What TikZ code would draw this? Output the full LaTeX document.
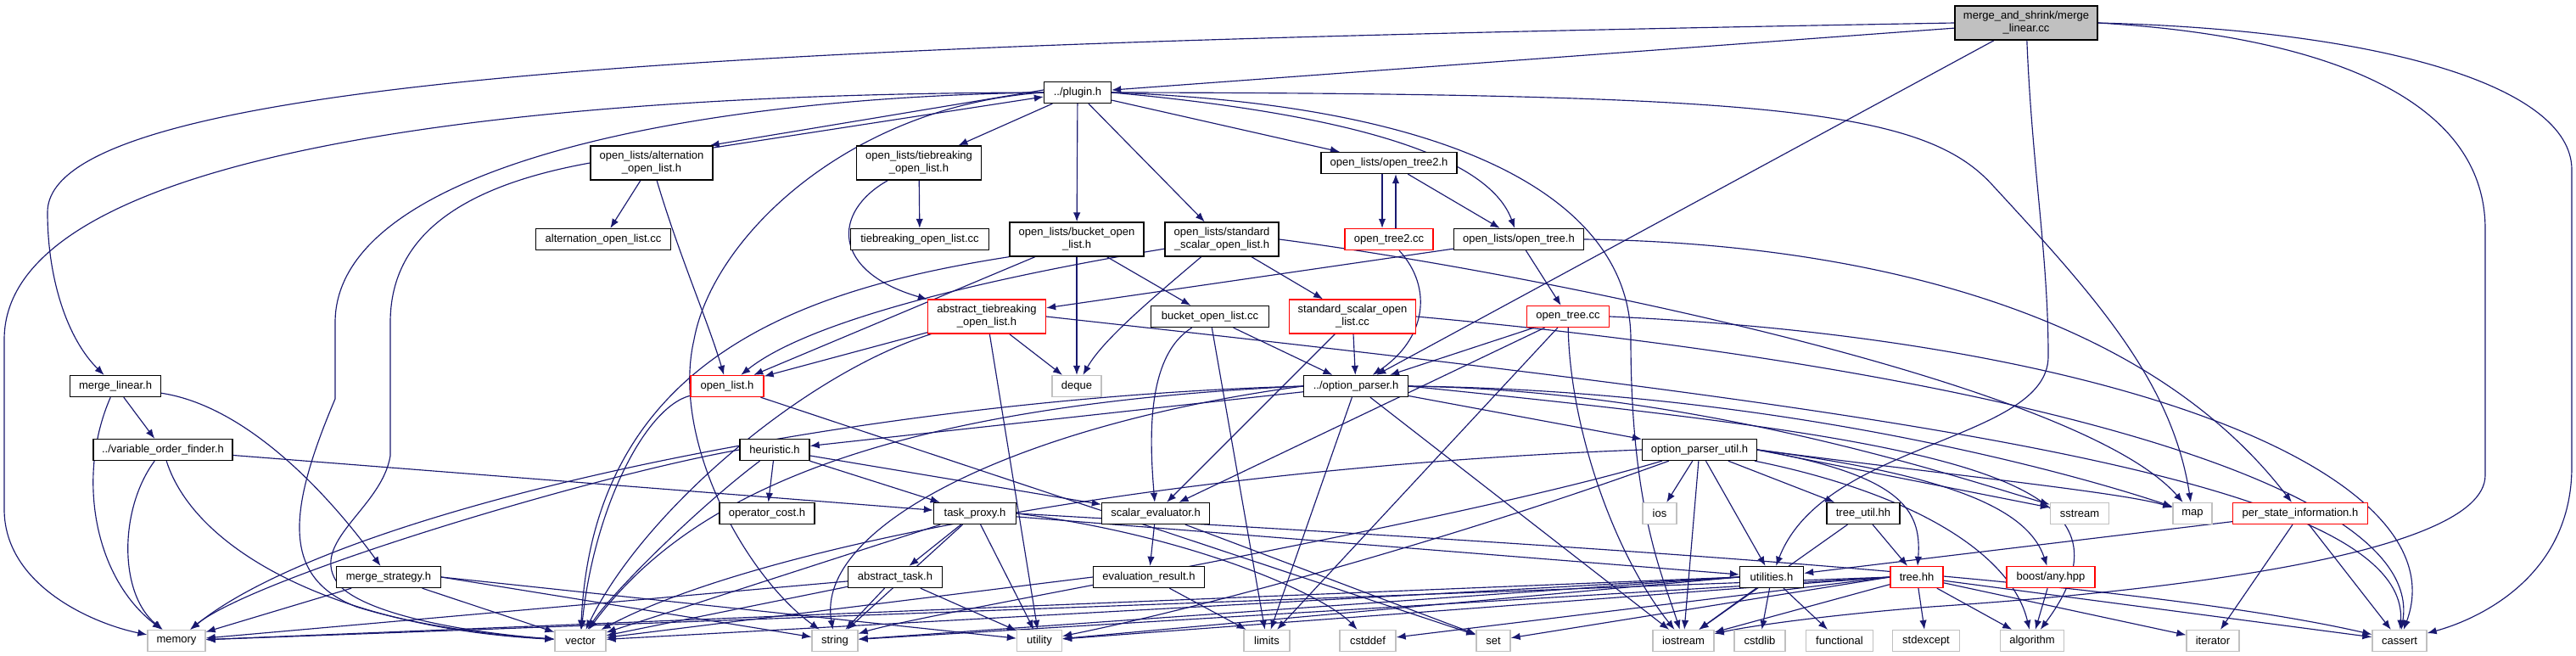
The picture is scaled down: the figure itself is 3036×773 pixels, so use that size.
\documentclass[tikz,border=0pt]{standalone}
\usepackage{fontspec}
\setmainfont{Liberation Sans}
\usetikzlibrary{arrows.meta}
\definecolor{edgec}{HTML}{191970}
\definecolor{sysg}{HTML}{C0C0C0}
\pgfdeclarelayer{bg}
\pgfsetlayers{bg,main}
\newcommand\fsz{\fontsize{13}{15}\selectfont}
\tikzset{
 nb/.style={draw=black, line width=1.3pt, fill=white, inner sep=0pt, minimum height=25pt, align=center, font=\fsz},
 rednb/.style={nb, draw=red},
 sysnb/.style={nb, draw=sysg},
 rootnb/.style={nb, fill=sysg, minimum height=40pt},
 twol/.style={minimum height=40pt},
 e/.style={draw=edgec, line width=1.15pt, -{Latex[length=11pt,width=8.5pt]}},
}
\begin{document}
\begin{tikzpicture}[x=1pt,y=-1pt]
\path[use as bounding box] (0,0) rectangle (3036,773);
% nodes
\node[rootnb,minimum width=168pt] (mlcc) at (2388,27) {merge\_and\_shrink/merge\\\_linear.cc};
\node[nb,minimum width=79pt] (plug) at (1270,109) {../plugin.h};
\node[nb,twol,minimum width=144pt] (altH) at (768,192) {open\_lists/alternation\\\_open\_list.h};
\node[nb,twol,minimum width=147pt] (tieH) at (1083,192) {open\_lists/tiebreaking\\\_open\_list.h};
\node[nb,minimum width=160pt] (ot2H) at (1637,192) {open\_lists/open\_tree2.h};
\node[nb,minimum width=159pt] (altCC) at (711,282) {alternation\_open\_list.cc};
\node[nb,minimum width=163pt] (tieCC) at (1084,282) {tiebreaking\_open\_list.cc};
\node[nb,twol,minimum width=158pt] (bucH) at (1269,282) {open\_lists/bucket\_open\\\_list.h};
\node[nb,twol,minimum width=134pt] (stdH) at (1440,282) {open\_lists/standard\\\_scalar\_open\_list.h};
\node[rednb,minimum width=104pt] (ot2CC) at (1637,282) {open\_tree2.cc};
\node[nb,minimum width=153pt] (otH) at (1790,282) {open\_lists/open\_tree.h};
\node[rednb,twol,minimum width=139pt] (absTie) at (1163,373) {abstract\_tiebreaking\\\_open\_list.h};
\node[nb,minimum width=139pt] (bucCC) at (1426,373) {bucket\_open\_list.cc};
\node[rednb,twol,minimum width=149pt] (stdCC) at (1594,373) {standard\_scalar\_open\\\_list.cc};
\node[rednb,minimum width=97pt] (otCC) at (1848,373) {open\_tree.cc};
\node[nb,minimum width=107pt] (mlH) at (136,455) {merge\_linear.h};
\node[rednb,minimum width=86pt] (openList) at (857,455) {open\_list.h};
\node[sysnb,minimum width=58pt] (deque) at (1269,455) {deque};
\node[nb,minimum width=123pt] (opH) at (1598,455) {../option\_parser.h};
\node[nb,minimum width=164pt] (vof) at (192,530) {../variable\_order\_finder.h};
\node[nb,minimum width=82pt] (heur) at (913,530) {heuristic.h};
\node[nb,minimum width=135pt] (opU) at (2003,530) {option\_parser\_util.h};
\node[nb,minimum width=112pt] (opCost) at (904,605) {operator\_cost.h};
\node[nb,minimum width=97pt] (taskP) at (1149,605) {task\_proxy.h};
\node[nb,minimum width=127pt] (scalE) at (1362,605) {scalar\_evaluator.h};
\node[sysnb,minimum width=40pt] (ios) at (1956,605) {ios};
\node[nb,minimum width=86pt] (treeU) at (2196,605) {tree\_util.hh};
\node[sysnb,minimum width=69pt] (sstream) at (2451,605) {sstream};
\node[sysnb,minimum width=46pt] (map) at (2584,605) {map};
\node[rednb,minimum width=159pt] (psi) at (2711,605) {per\_state\_information.h};
\node[nb,minimum width=123pt] (mStrat) at (458,680) {merge\_strategy.h};
\node[nb,minimum width=111pt] (absTask) at (1055,680) {abstract\_task.h};
\node[nb,minimum width=131pt] (evalR) at (1354,680) {evaluation\_result.h};
\node[nb,minimum width=75pt] (utilH) at (2088,680) {utilities.h};
\node[rednb,minimum width=62pt] (tree) at (2259,680) {tree.hh};
\node[rednb,minimum width=104pt] (boost) at (2417,680) {boost/any.hpp};
\node[sysnb,minimum width=68pt] (memory) at (208,755) {memory};
\node[sysnb,minimum width=60pt] (vector) at (684,755) {vector};
\node[sysnb,minimum width=54pt] (string) at (984,755) {string};
\node[sysnb,minimum width=53pt] (utility) at (1225,755) {utility};
\node[sysnb,minimum width=54pt] (limits) at (1493,755) {limits};
\node[sysnb,minimum width=66pt] (cstddef) at (1612,755) {cstddef};
\node[sysnb,minimum width=40pt] (set) at (1760,755) {set};
\node[sysnb,minimum width=72pt] (iostream) at (1984,755) {iostream};
\node[sysnb,minimum width=60pt] (cstdlib) at (2074,755) {cstdlib};
\node[sysnb,minimum width=79pt] (functional) at (2168,755) {functional};
\node[sysnb,minimum width=79pt] (stdexcept) at (2270,755) {stdexcept};
\node[sysnb,minimum width=75pt] (algorithm) at (2395,755) {algorithm};
\node[sysnb,minimum width=62pt] (iterator) at (2608,755) {iterator};
\node[sysnb,minimum width=64pt] (cassert) at (2828,755) {cassert};
\begin{pgfonlayer}{bg}
\fill[white] (0,0) rectangle (3036,773);
% merge_linear.cc
\draw[e] (mlcc) -- (plug);
\draw[e] (mlcc.west) .. controls (1000,50) and (56,80) .. (56,250) .. controls (56,330) and (80,400) .. (mlH);
\draw[e] (mlcc) -- (opH);
\draw[e] (mlcc) .. controls (2395,200) and (2414,300) .. (2414,420) .. controls (2414,520) and (2150,520) .. (utilH);
\draw[e] (mlcc.east) .. controls (2700,40) and (2929,100) .. (2929,270) -- (2929,560) .. controls (2929,660) and (2500,700) .. (2276,715) .. controls (2150,725) and (2060,738) .. (iostream);
\draw[e] (mlcc.east) .. controls (2800,35) and (3031,100) .. (3031,200) -- (3031,550) .. controls (3031,680) and (2920,730) .. (cassert);
% plugin.h
\draw[e] ([yshift=3pt]plug.west) -- ([xshift=-4pt]altH.north east);
\draw[e] ([xshift=-2pt,yshift=-3pt]altH.north east) -- ([yshift=-5pt]plug.west);
\draw[e] (plug) -- (tieH);
\draw[e] (plug) -- (bucH);
\draw[e] (plug) -- (stdH);
\draw[e] (plug) -- (ot2H);
\draw[e] (plug.east) .. controls (1650,140) and (1760,200) .. (otH);
\draw[e] (plug.east) .. controls (1750,125) and (1922,250) .. (1922,400) .. controls (1922,600) and (1960,680) .. (iostream);
\draw[e] (plug.east) .. controls (2100,110) and (2270,130) .. (2350,220) .. controls (2470,350) and (2560,450) .. (map);
\draw[e] (plug.west) .. controls (1000,125) and (840,280) .. (818,400) .. controls (790,520) and (880,680) .. (string);
\draw[e] (plug.west) .. controls (600,110) and (5,180) .. (5,400) -- (5,600) .. controls (5,690) and (110,735) .. (memory);
\draw[e] (plug.west) .. controls (800,115) and (395,200) .. (395,380) -- (395,470) .. controls (340,600) and (330,680) .. (420,715) .. controls (500,740) and (600,750) .. (vector);
% alternation
\draw[e] (altH) -- (altCC);
\draw[e] (altH) .. controls (800,300) and (835,380) .. (openList);
\draw[e] (altH.west) .. controls (540,220) and (460,280) .. (460,380) -- (460,537) .. controls (450,600) and (360,640) .. (400,690) .. controls (440,730) and (580,748) .. (vector);
% tiebreaking
\draw[e] (tieH) -- (tieCC);
\draw[e] (tieH) .. controls (980,250) and (980,320) .. (absTie);
% bucket
\draw[e] (bucH) -- (bucCC);
\draw[e] (bucH) -- (deque);
\draw[e] (bucH) -- (openList);
\draw[e] (bucH.south west) .. controls (950,340) and (700,420) .. (vector);
% standard scalar
\draw[e] (stdH) -- (stdCC);
\draw[e] (stdH) .. controls (1360,350) and (1300,400) .. (deque);
\draw[e] (stdH) .. controls (1150,330) and (950,380) .. (openList);
\draw[e] (stdH.east) .. controls (1800,320) and (2450,450) .. (map);
% open tree 2
\draw[e] ([xshift=-8pt]ot2H.south) -- ([xshift=-8pt]ot2CC.north);
\draw[e] ([xshift=8pt]ot2CC.north) -- ([xshift=8pt]ot2H.south);
\draw[e] (ot2H) -- (otH);
\draw[e] (ot2CC) .. controls (1690,340) and (1680,400) .. (opH);
% open tree
\draw[e] (otH) -- (otCC);
\draw[e] (otH) -- (absTie);
\draw[e] (otH.east) .. controls (2100,285) and (2500,330) .. (psi);
% abstract tiebreaking
\draw[e] (absTie) -- (openList);
\draw[e] (absTie) -- (deque);
\draw[e] (absTie) -- (utility);
\draw[e] (absTie) .. controls (950,440) and (760,600) .. (vector);
\draw[e] (absTie.east) .. controls (2200,480) and (2840,560) .. (cassert);
% bucket cc
\draw[e] (bucCC) -- (opH);
\draw[e] (bucCC) .. controls (1350,420) and (1355,520) .. (scalE);
\draw[e] (bucCC) -- (limits);
% standard scalar cc
\draw[e] (stdCC) -- (opH);
\draw[e] (stdCC) -- (scalE);
\draw[e] (stdCC.east) .. controls (2300,430) and (2860,560) .. (cassert);
% open tree cc
\draw[e] (otCC) -- (opH);
\draw[e] (otCC) -- (scalE);
\draw[e] (otCC) -- (limits);
\draw[e] (otCC) .. controls (1850,500) and (1900,650) .. (iostream);
\draw[e] (otCC.east) .. controls (2500,400) and (2900,560) .. (cassert);
% open list
\draw[e] (openList) .. controls (760,480) and (700,600) .. (vector);
\draw[e] (openList) -- (set);
% option parser
\draw[e] (opH) -- (heur);
\draw[e] (opH) -- (opU);
\draw[e] (opH.west) .. controls (1000,470) and (400,600) .. (memory);
\draw[e] (opH.west) .. controls (1000,480) and (800,600) .. (vector);
\draw[e] (opH.west) .. controls (1200,500) and (960,620) .. (string);
\draw[e] (opH) -- (limits);
\draw[e] (opH) -- (iostream);
\draw[e] (opH.east) .. controls (2000,460) and (2300,560) .. (sstream);
\draw[e] (opH.east) .. controls (2100,460) and (2450,560) .. (map);
\draw[e] (opH.east) .. controls (2300,520) and (2540,560) .. (algorithm);
% option parser util
\draw[e] (opU.west) .. controls (1400,550) and (900,640) .. (vector);
\draw[e] (opU) .. controls (1700,620) and (1100,720) .. (string);
\draw[e] (opU) .. controls (1700,640) and (1400,720) .. (utility);
\draw[e] (opU) -- (ios);
\draw[e] (opU) -- (iostream);
\draw[e] (opU) -- (utilH);
\draw[e] (opU) -- (treeU);
\draw[e] (opU.east) .. controls (2240,560) and (2265,600) .. (tree);
\draw[e] (opU.east) .. controls (2300,560) and (2390,600) .. (boost);
\draw[e] (opU.east) -- (sstream);
\draw[e] (opU.east) .. controls (2300,560) and (2500,580) .. (map);
\draw[e] (opU) .. controls (2250,580) and (2370,650) .. (algorithm);
% heuristic
\draw[e] (heur) -- (opCost);
\draw[e] (heur) -- (taskP);
\draw[e] (heur) -- (scalE);
\draw[e] (heur.west) .. controls (700,560) and (300,680) .. (memory);
\draw[e] (heur) .. controls (820,600) and (720,700) .. (vector);
% task proxy
\draw[e] (taskP) -- (absTask);
\draw[e] (taskP) -- (string);
\draw[e] (taskP) -- (utility);
\draw[e] (taskP) -- (vector);
\draw[e] (taskP) -- (utilH);
\draw[e] (taskP.east) .. controls (1400,630) and (1560,700) .. (cstddef);
\draw[e] (taskP.east) .. controls (1800,640) and (2500,680) .. (cassert);
% scalar evaluator
\draw[e] (scalE) -- (evalR);
\draw[e] (scalE) -- (set);
% abstract task
\draw[e] (absTask) -- (memory);
\draw[e] (absTask) -- (vector);
\draw[e] (absTask) -- (string);
\draw[e] (absTask) -- (utility);
% evaluation result
\draw[e] (evalR) -- (limits);
\draw[e] (evalR.west) -- (vector);
% merge linear
\draw[e] (mlH) -- (vof);
\draw[e] (mlH) .. controls (300,480) and (400,600) .. (mStrat);
\draw[e] (mlH) .. controls (90,560) and (110,680) .. (memory);
\draw[e] (vof) -- (taskP);
\draw[e] (vof) .. controls (140,600) and (140,700) .. (memory);
\draw[e] (vof) .. controls (230,650) and (400,740) .. (vector);
\draw[e] (mStrat) -- (memory);
\draw[e] (mStrat) -- (vector);
\draw[e] (mStrat.east) -- (string);
\draw[e] (mStrat.east) -- (utility);
% utilities
\draw[e] (utilH) -- (iostream);
\draw[e] (utilH) -- (cstdlib);
\draw[e] (utilH) -- (functional);
\draw[e] (utilH.west) -- (vector);
\draw[e] (utilH.west) -- (string);
\draw[e] (utilH.west) -- (utility);
\draw[e] (utilH.west) -- (memory);
% tree
\draw[e] (treeU) -- (tree);
\draw[e] (treeU) -- (iostream);
\draw[e] (tree) -- (stdexcept);
\draw[e] (tree) -- (algorithm);
\draw[e] (tree) -- (iterator);
\draw[e] (tree) -- (cassert);
\draw[e] (tree) -- (iostream);
\draw[e] (tree.west) -- (set);
\draw[e] (tree.west) -- (cstddef);
\draw[e] (tree.west) -- (string);
\draw[e] (tree.west) -- (utility);
\draw[e] (tree.west) -- (memory);
\draw[e] (boost) -- (algorithm);
% per state information
\draw[e] (psi) -- (utilH);
\draw[e] (psi) -- (iterator);
\draw[e] (psi) -- (cassert);
\end{pgfonlayer}
\end{tikzpicture}
\end{document}
